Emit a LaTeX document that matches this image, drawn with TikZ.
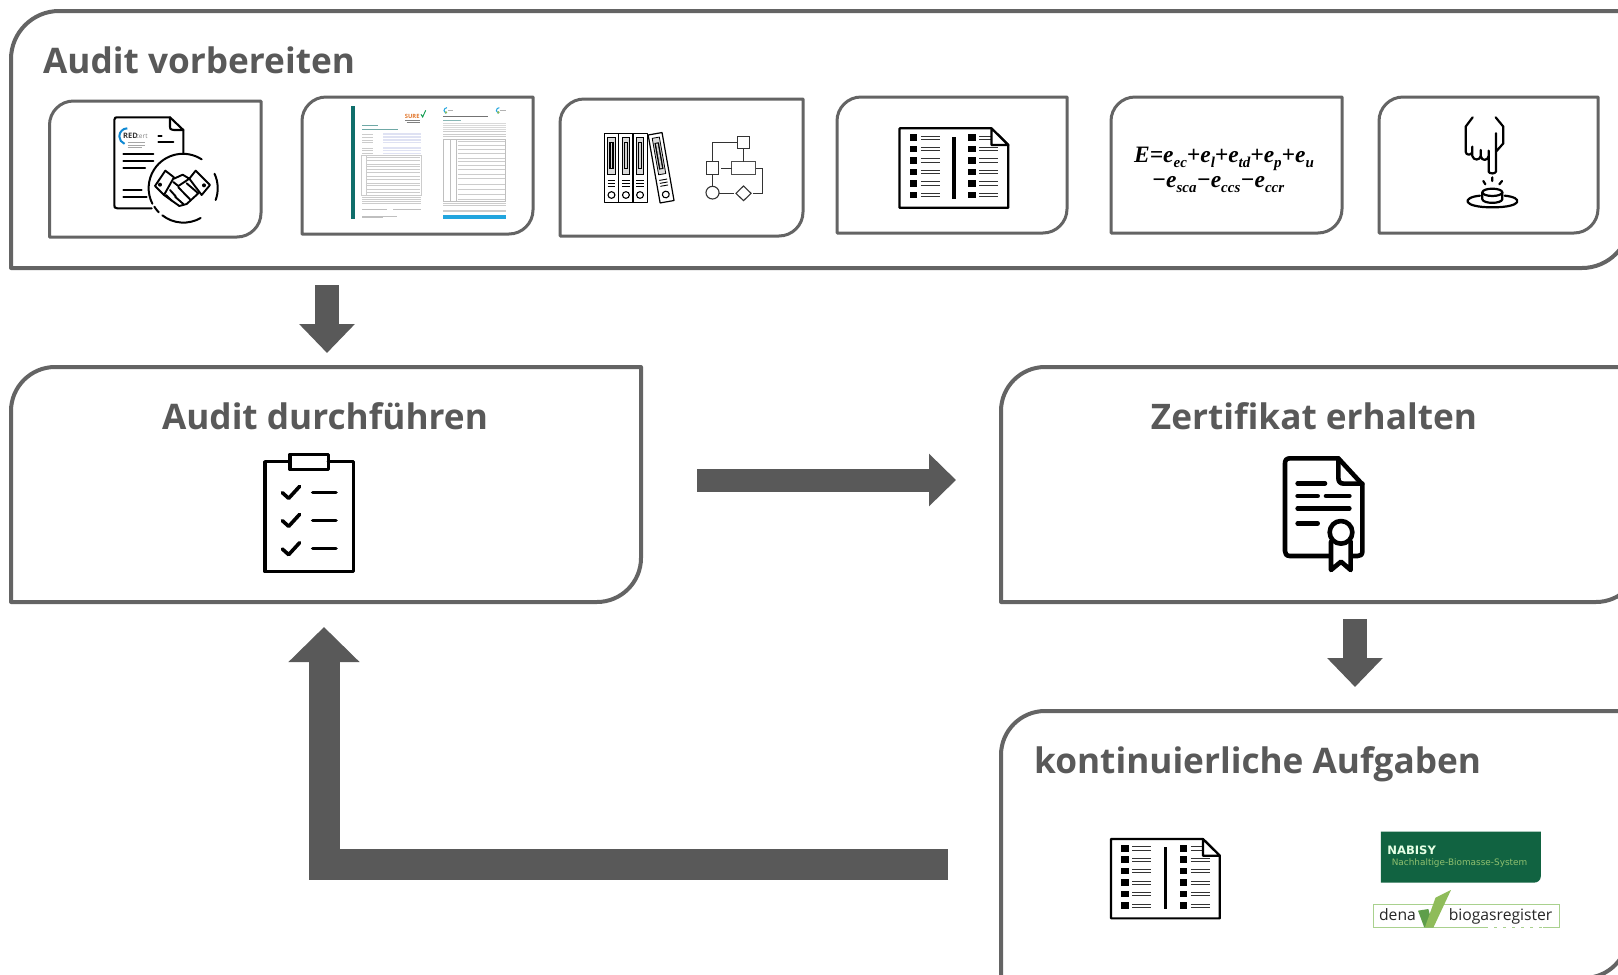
\documentclass[tikz,border=0pt]{standalone}
\usepackage{fontspec}
\setmainfont{Open Sans}
\newfontfamily\formulafont{Liberation Serif}
\newfontfamily\logofont{DejaVu Sans}
\usetikzlibrary{arrows.meta,calc}
\definecolor{frame}{HTML}{646464}
\definecolor{arrowgray}{HTML}{595959}
\definecolor{titlegray}{HTML}{595959}
\definecolor{nabisy}{HTML}{116341}
\definecolor{nabisylight}{HTML}{8FBF6F}
\definecolor{denaline}{HTML}{A9D18E}
\definecolor{denadark}{HTML}{5E9E4A}
\definecolor{denalight}{HTML}{8FBC5A}
\definecolor{suregreen}{HTML}{0F6E6B}
\definecolor{sureorange}{HTML}{E2762B}
\definecolor{formblue}{HTML}{DFE2F3}
\definecolor{barblue}{HTML}{22A5DE}
\tikzset{
  panelline/.style={draw=frame,line width=4pt,fill=white,line join=round},
  titletext/.style={inner sep=0pt,text=titlegray,font=\fontsize{35.2}{40}\selectfont\bfseries},
  blockarrow/.style={draw=arrowgray,line width=#1,line cap=butt},
  tipsmall/.style={-{Triangle[width=54pt,length=29pt,color=arrowgray]}},
  zoomed/.style={x=0.33333pt,y=-0.33333pt},
  zoomedb/.style={x=0.34435pt,y=-0.33333pt},
  zoomedc/.style={x=0.34317pt,y=-0.33333pt},
  ink/.style={draw=black,line join=round,line cap=round},
  greyline/.style={draw=gray!40,line width=0.4pt}
}
\newcommand{\panel}[6]{%
  \draw[panelline] ({#2},{#3+#6}) .. controls ({#2},{#3+0.45*#6}) and ({#2+0.45*#6},{#3}) .. ({#2+#6},{#3})
    -- ({#4},{#3}) -- ({#4},{#5-#6}) .. controls ({#4},{#5-0.45*#6}) and ({#4-0.45*#6},{#5}) .. ({#4-#6},{#5})
    -- ({#2},{#5}) -- cycle;
  \node[inner sep=0pt,minimum size=0pt] (#1) at ({(#2+#4)/2},{(#3+#5)/2}) {};
}
\newcommand{\listicon}[2]{%
  \begin{scope}[shift={(#1,#2)},zoomedb]
    \draw[ink,line width=2.2pt,fill=white] (1015,145) -- (1282,145) -- (1331,195) -- (1331,383) -- (1015,383) -- cycle;
    \foreach \yy in {173,207,241,276,310,345}{
      \fill (1045,\yy-10) rectangle (1066,\yy+10);
      \fill (1215,\yy-10) rectangle (1236,\yy+10);
      \draw[black!80,line width=1pt] (1077,\yy-5) -- (1132,\yy-5) (1077,\yy+5) -- (1132,\yy+5)
        (1247,\yy-5) -- (1302,\yy-5) (1247,\yy+5) -- (1302,\yy+5);
    }
    \fill (1168,170) rectangle (1178,356);
    \draw[ink,line width=2.2pt,fill=white] (1282,145) -- (1282,195) -- (1331,195) -- cycle;
  \end{scope}}
\newcommand{\esub}[2]{#1\raisebox{-5pt}{\fontsize{15}{15}\selectfont #2}}
\begin{document}
\begin{tikzpicture}[x=1pt,y=-1pt]
\useasboundingbox (0,0) rectangle (1618,975);
\fill[white] (0,0) rectangle (1618,975);

% large panels
\panel{prep}{11}{11}{1630}{268}{48}
\panel{audit}{11}{367}{641}{602}{44}
\panel{cert}{1001}{367}{1640}{602}{44}
\panel{cont}{1001}{711}{1628}{978}{44}

% small panels
\tikzset{panelline/.append style={line width=3pt}}
\panel{p1}{49.5}{101}{261}{237}{24}
\panel{p2}{302}{97}{533}{234}{24}
\panel{p3}{560}{99}{803}{236}{24}
\panel{p4}{837}{97}{1067}{233}{24}
\panel{p5}{1111}{97}{1342}{233}{24}
\panel{p6}{1379}{97}{1598}{233}{24}

% titles
\node[titletext,anchor=base west] (t1) at (43,73) {Audit vorbereiten};
\node[titletext,anchor=base] (t2) at (325,429) {Audit durchführen};
\node[titletext,anchor=base] (t3) at (1314,429) {Zertifikat erhalten};
\node[titletext,anchor=base west] (t4) at (1034,773) {kontinuierliche Aufgaben};

% block arrows
\coordinate (a1s) at (327,285);
\coordinate (a1e) at (327,353);
\coordinate (a2s) at (697,480);
\coordinate (a2e) at (956,480);
\coordinate (a3s) at (1355,619);
\coordinate (a3e) at (1355,687);
\coordinate (a4s) at (948,864);
\coordinate (a4e) at (324,627);
\draw[blockarrow=24pt,tipsmall] (a1s) -- (a1e);
\draw[blockarrow=23pt,-{Triangle[width=51pt,length=27pt,color=arrowgray]}] (a2s) -- (a2e);
\draw[blockarrow=24pt,tipsmall] (a3s) -- (a3e);
\draw[blockarrow=31pt,line join=miter,-{Triangle[width=69pt,length=35pt,color=arrowgray]}] (a4s) -| (a4e);

% icon 1: contract with handshake
\begin{scope}[shift={(30,80)},zoomed]
  \draw[ink,line width=2.1pt] (460,220) -- (460,150) -- (420,112) -- (262,112) .. controls (255,112) .. (253,120) -- (253,375) .. controls (253,383) .. (262,385) -- (365,385);
  \draw[ink,line width=2.1pt] (420,112) -- (420,135) .. controls (420,148) .. (432,150) -- (460,150);
  \draw[cyan!70!blue,line width=2pt] (292,145) arc[start angle=-90,end angle=-250,radius=24];
  \node[inner sep=0pt,anchor=base west,font=\fontsize{7.5}{8}\selectfont\bfseries,text=black!80] (redt) at (279,174) {RED};
  \node[inner sep=0pt,anchor=base west,font=\fontsize{6.5}{8}\selectfont,text=gray] (redc) at (317,174) {cert};
  \draw[gray!70,line width=0.4pt] (293,188) -- (345,188) (293,195) -- (345,195) (293,202) -- (335,202);
  \draw[ink,line width=2.1pt] (385,168) -- (395,168) (385,185) -- (430,185);
  \draw[ink,line width=2.1pt] (280,222) -- (370,222) (280,243) -- (370,243) (280,265) -- (345,265) (280,330) -- (335,330) (280,350) -- (350,350);
  \fill[white] (460,325) circle[radius=103];
  \draw[ink,line width=2pt] (515,238) arc[start angle=-57,end angle=-207,radius=103]
     (373,380) arc[start angle=-212,end angle=-224,radius=103]
     (397,406) arc[start angle=-232,end angle=-300,radius=103]
     (557,360) arc[start angle=-340,end angle=-385,radius=103];
  % handshake
  \begin{scope}[line width=1.9pt]
    \draw[ink] (375,318) -- (406,272) -- (432,292) -- (402,345) -- cycle;
    \draw[ink] (497,272) -- (540,315) -- (515,345) -- (478,296) -- cycle;
    \fill (390,314) circle[radius=6] (522,316) circle[radius=6];
    \draw[ink] (432,296) -- (458,284) -- (478,296) (478,296) -- (445,318) -- (430,306) (470,310) -- (505,340) -- (470,372) -- (448,378) -- (402,345);
    \draw[ink] (420,330) -- (438,350) (408,345) -- (425,362) (445,322) -- (480,358) (435,350) -- (460,372);
  \end{scope}
\end{scope}

% icon 2: two forms
\begin{scope}[shift={(340,95)},zoomed]
  \fill[suregreen] (33,33) rectangle (45,372);
  \node[inner sep=0pt,anchor=base west,font=\fontsize{5.8}{7}\selectfont\bfseries,text=sureorange] (surelogo) at (194,70) {SURE};
  \draw[suregreen!70!green,line width=0.9pt] (243,58) -- (248,66) -- (257,46);
  \draw[gray,line width=0.4pt] (195,76) -- (240,76) (200,81) -- (240,81);
  \draw[suregreen!60,line width=0.8pt] (67,90) -- (113,90);
  \draw[suregreen!60,line width=0.6pt] (67,102) -- (175,102);
  \foreach \yy in {117,126,135,143,159,166,175}{
    \draw[formblue,line width=1.2pt] (130,\yy) -- (243,\yy);
    \draw[gray!40,line width=0.4pt] (67,\yy) -- (100,\yy);
  }
  \draw[gray!40,line width=0.4pt] (65,182) rectangle (243,302);
  \foreach \yy in {187,195,207,214,222,231,245,254,264,272,282,292}{
    \draw[greyline] (82,\yy) -- (240,\yy);
  }
  \draw[gray!40,line width=0.4pt] (78,182) -- (78,302);
  \foreach \yy in {308,314,320,326}{\draw[greyline] (67,\yy) -- (243,\yy);}
  \draw[gray!50,line width=0.4pt] (67,343) -- (140,343) (160,343) -- (243,343) (67,364) -- (170,364) (67,368) -- (130,368);
  % second page
  \foreach \xx in {310,467}{
    \draw[barblue,line width=1pt] (\xx+11,38) arc[start angle=-90,end angle=-250,radius=9];
    \fill[denalight] (\xx+8,52) circle[radius=4];
    \draw[gray!60,line width=0.4pt] (\xx+14,46) -- (\xx+30,46);
  }
  \draw[black!55,line width=0.8pt] (310,64) -- (445,64);
  \draw[suregreen!50,line width=0.6pt] (310,75) -- (362,75);
  \foreach \yy in {85,91,97,102}{\draw[gray!30,line width=0.4pt] (310,\yy) -- (497,\yy);}
  \foreach \yy in {108,118,123}{\draw[greyline] (310,\yy) -- (497,\yy);}
  \draw[gray!50,line width=0.4pt] (310,133) rectangle (497,318);
  \draw[gray!50,line width=0.4pt] (332,133) -- (332,318) (350,133) -- (350,318);
  \foreach \yy in {138,150,163,175,190,200,210,222,238,251,268,284,298,312}{
    \draw[greyline] (353,\yy) -- (494,\yy);
  }
  \foreach \yy in {324,332,345,350}{\draw[greyline] (310,\yy) -- (497,\yy);}
  \fill[barblue] (310,360) rectangle (497,372);
\end{scope}

% icon 3: binders and flow chart
\begin{scope}[shift={(550,80)},zoomedb]
  \foreach \xx in {158,200,241}{
    \begin{scope}[shift={(\xx,0)}]
      \draw[ink,line width=1.2pt,line cap=butt] (0,160) rectangle (41,367);
      \draw[black,line width=0.8pt,fill=gray!30] (10,172) rectangle (31,283);
      \fill[black] (14,187) rectangle (27,268);
      \fill[gray!35] (18,190) rectangle (23,265);
      \draw[black,line width=0.9pt] (9,300) -- (32,300) (9,309) -- (32,309) (9,318) -- (32,318);
      \draw[black,line width=1.1pt] (20.5,345) circle[radius=10];
    \end{scope}
  }
  \begin{scope}[shift={(285,165)},rotate=10]
    \draw[ink,line width=1.2pt,line cap=butt,fill=white] (0,0) rectangle (41,207);
    \draw[black,line width=0.8pt,fill=gray!30] (10,12) rectangle (31,123);
    \fill[black] (14,27) rectangle (27,108);
    \fill[gray!35] (18,30) rectangle (23,105);
    \draw[black,line width=0.9pt] (9,140) -- (32,140) (9,149) -- (32,149) (9,158) -- (32,158);
    \draw[black,line width=1.1pt] (20.5,185) circle[radius=10];
  \end{scope}
  \draw[black!80,line width=1.1pt] (545,170) rectangle (580,205);
  \draw[black!80,line width=1.1pt] (455,245) rectangle (490,283);
  \draw[black!70,line width=1.1pt] (528,245) rectangle (597,283);
  \draw[black!80,line width=1.1pt] (472,338) circle[radius=19];
  \draw[black!80,line width=1.1pt] (562,318) -- (584,340) -- (562,362) -- (540,340) -- cycle;
  \draw[black!80,line width=0.9pt] (545,187) -- (472,187) -- (472,245)
     (562,205) -- (562,245) (528,264) -- (497,264)
     (472,283) -- (472,319) (491,340) -- (534,340)
     (590,340) -- (617,340) -- (617,264) -- (597,264);
\end{scope}

% icon 4: list
\listicon{550}{80}

% icon 5: formula
\node[inner sep=0pt,anchor=base,font=\formulafont\bfseries\itshape\fontsize{23.5}{26}\selectfont] (f1) at (1224,162)
  {E=\esub{e}{ec}+\esub{e}{l}+\esub{e}{td}+\esub{e}{p}+\esub{e}{u}};
\node[inner sep=0pt,anchor=base,font=\formulafont\bfseries\itshape\fontsize{23.5}{26}\selectfont] (f2) at (1218,187)
  {−\esub{e}{sca}−\esub{e}{ccs}−\esub{e}{ccr}};

% icon 6: finger and button
\begin{scope}[shift={(1100,80)},zoomed]
  \draw[ink,line width=2.2pt,fill=white] (1118,112) -- (1097,140) -- (1097,215) .. controls (1097,226) and (1115,228) .. (1117,215) (1117,200) -- (1117,228) .. controls (1120,242) and (1140,242) .. (1142,228) -- (1142,210) (1142,228) .. controls (1145,245) and (1164,242) .. (1166,228) -- (1166,212) (1166,228) -- (1166,275) .. controls (1168,282) and (1186,282) .. (1188,275) -- (1188,160) (1187,112) -- (1210,140) -- (1210,190) -- (1188,215);
  \draw[ink,line width=2.2pt] (1177,292) -- (1177,303) (1150,303) -- (1156,313) (1206,303) -- (1198,313);
  \draw[ink,line width=2.2pt] (1177,337) ellipse[x radius=30,y radius=11];
  \draw[ink,line width=2.2pt] (1147,337) -- (1147,358) .. controls (1150,372) and (1204,372) .. (1207,358) -- (1207,337);
  \draw[ink,line width=2.2pt] (1140,347) .. controls (1085,352) and (1085,382) .. (1177,382) .. controls (1270,382) and (1270,352) .. (1214,347);
\end{scope}

% clipboard
\begin{scope}[shift={(240,440)},zoomed]
  \draw[ink,line width=3.6pt] (150,65) -- (75,65) -- (75,395) -- (340,395) -- (340,65) -- (265,65);
  \draw[ink,line width=3.6pt] (150,43) rectangle (265,88);
  \foreach \dy in {0,84,169}{
    \draw[ink,line width=3.6pt] (127,158+\dy) -- (146,175+\dy) -- (179,139+\dy);
    \draw[ink,line width=3.6pt] (218,157+\dy) -- (288,157+\dy);
  }
\end{scope}

% certificate
\begin{scope}[shift={(1260,445)},zoomed]
  \draw[ink,line width=4.6pt] (213,333) -- (90,333) .. controls (78,333) and (75,325) .. (75,318) -- (75,55) .. controls (75,45) and (80,40) .. (90,40) -- (235,40) -- (307,118) -- (307,320) .. controls (307,330) and (300,333) .. (292,333) -- (272,333);
  \draw[ink,line width=4.6pt] (235,40) -- (235,98) .. controls (235,110) and (240,116) .. (252,116) -- (307,116);
  \draw[ink,line width=4.6pt] (113,115) -- (195,115) (113,153) -- (173,153) (198,153) -- (268,153) (113,190) -- (268,190) (113,235) -- (173,235);
  \draw[ink,line width=4.6pt,fill=white] (213,290) -- (213,375) -- (243,350) -- (272,375) -- (272,290);
  \draw[ink,line width=4.6pt,fill=white] (243,262) circle[radius=34];
\end{scope}

% lower list icon
\listicon{761.5}{790.7}

% register logos
\begin{scope}[shift={(1080,810)},zoomedc]
  \fill[nabisy] (877,65) -- (1343,65) -- (1343,198) .. controls (1343,212) and (1332,218) .. (1322,218) -- (877,218) -- cycle;
  \node[inner sep=0pt,anchor=base west,font=\logofont\bfseries\fontsize{11.6}{12}\selectfont,text=green!10!white] (nab1) at (895,133) {NABISY};
  \node[inner sep=0pt,anchor=base west,font=\logofont\fontsize{8.9}{11}\selectfont,text=nabisylight] (nab2) at (908,167) {Nachhaltige-Biomasse-System};
  \draw[denaline,line width=0.9pt,fill=white] (855,284) rectangle (1397,352);
  \fill[denadark] (985,302) -- (1015,297) -- (1030,352) -- (1003,352) -- cycle;
  \fill[denalight] (1005,352) -- (1030,352) -- (1081,240) -- (1036,263) -- cycle;
  \node[inner sep=0pt,anchor=base west,font=\fontsize{15.7}{18}\selectfont,text=black!85] (den1) at (871,332) {dena};
  \node[inner sep=0pt,anchor=base west,font=\fontsize{15.7}{18}\selectfont,text=black!85] (den2) at (1074,332) {biogasregister};
  \draw[white,line width=0.8pt,dash pattern=on 6pt off 3pt] (1190,352) -- (1350,352);
\end{scope}
\end{tikzpicture}
\end{document}
